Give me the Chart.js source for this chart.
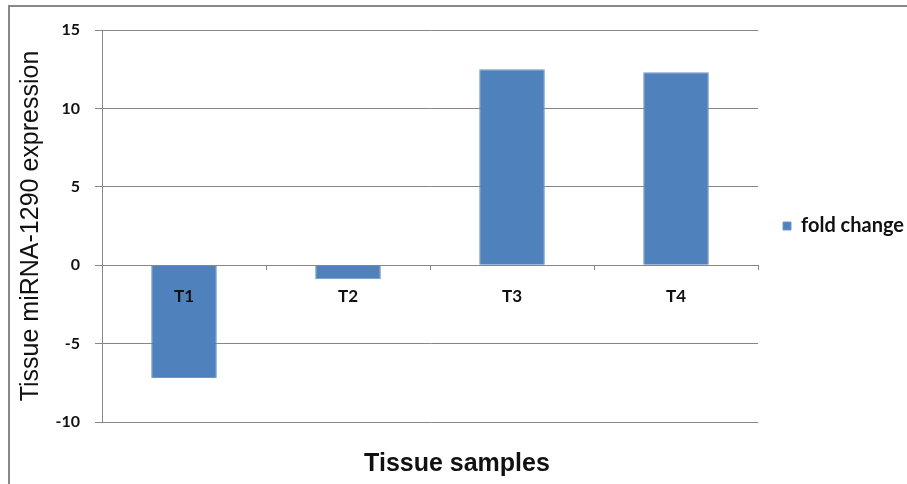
<!DOCTYPE html>
<html>
<head>
  <meta charset="utf-8">
  <style>
    body { margin: 0; background: #fff; }
    #wrap { position: relative; width: 907px; height: 484px; }
    #frame {
      position: absolute; left: 8px; top: 5px; width: 905px; height: 477px;
      border-left: 2px solid #888; border-top: 2px solid #888; border-bottom: 1px solid #d4d4d4;
      pointer-events: none;
    }
  </style>
</head>
<body>

  <div id='wrap'>
    <canvas id='foldChart' width="907" height="484"></canvas>
    <div id='frame'></div>
  </div>

<script src="https://cdn.jsdelivr.net/npm/chart.js@4.4.0/dist/chart.umd.min.js"></script>

<script>
// data
const samples = ['T1', 'T2', 'T3', 'T4'];
const foldChange = [-7.2, -0.9, 12.5, 12.3];
const yTicks = [-10, -5, 0, 5, 10, 15];

const gridGrey = '#868686';

const data = {
  labels: samples,
  datasets: [{
    label: 'fold change',
    data: foldChange,
    backgroundColor: '#4f81bd',
    borderColor: '#6f98c9',
    borderWidth: 1,
    barPercentage: 0.4,
    categoryPercentage: 1.0
  }]
};

const config = {
  type: 'bar',
  data,
  options: {
    responsive: false,
    animation: false,
    layout: { padding: { top: 30, right: -7, left: 0, bottom: 0 } },
    scales: {
      x: {
        position: { y: 0 },
        grid: { drawOnChartArea: false, drawTicks: true, tickLength: 5, color: gridGrey, offset: true },
        border: { display: false },
        // labels sit on top of the bars, like the original
        ticks: { z: 1, color: '#111', padding: 16, font: { family: 'Lato', weight: 'bold', size: 17 } }
      },
      y: {
        min: yTicks[0],
        max: yTicks[yTicks.length - 1],
        afterBuildTicks: scale => { scale.ticks = yTicks.map(v => ({ value: v })); },
        afterFit: scale => { scale.width = 102; },
        grid: { color: gridGrey, tickLength: 7 },
        border: { color: gridGrey },
        ticks: { color: '#111', padding: 15, font: { family: 'Lato', weight: 'bold', size: 16 } },
        title: {
          display: true,
          text: 'Tissue miRNA-1290 expression',
          color: '#111',
          padding: { top: 16, bottom: 0 },
          font: { family: 'Liberation Sans', size: 25 }
        }
      }
    },
    plugins: {
      legend: {
        position: 'right',
        fullSize: false,
        labels: {
          boxWidth: 8,
          boxHeight: 8,
          padding: 25,
          color: '#111',
          font: { family: 'Lato', weight: 'bold', size: 20 }
        }
      },
      title: {
        display: true,
        position: 'bottom',
        text: 'Tissue samples',
        color: '#111',
        padding: { top: 27, bottom: 5 },
        font: { family: 'Liberation Sans', weight: 'bold', size: 25 }
      },
      tooltip: { enabled: false }
    }
  }
};

const myChart = new Chart(document.getElementById('foldChart'), config);
</script>

</body>
</html>
